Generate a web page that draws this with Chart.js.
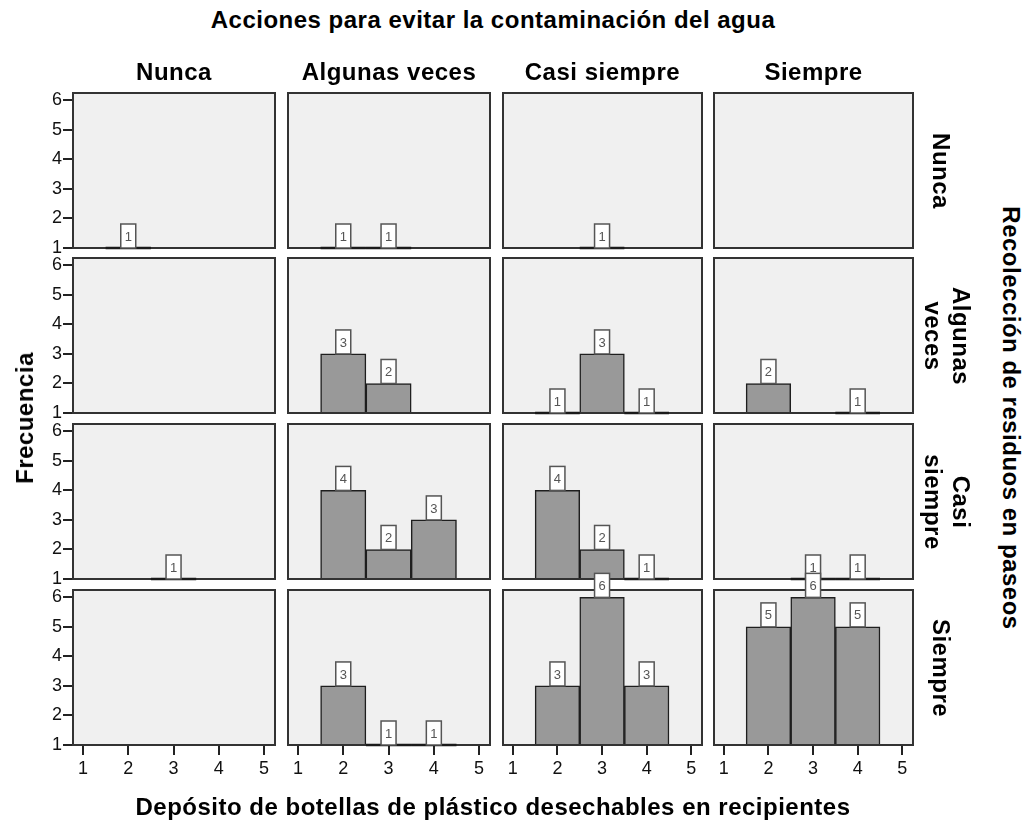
<!DOCTYPE html>
<html>
<head>
<meta charset="utf-8">
<title>Acciones para evitar la contaminación del agua</title>
<script src="https://cdn.jsdelivr.net/npm/chart.js@4.4.1/dist/chart.umd.min.js"></script>
<style>
  html, body { margin: 0; padding: 0; background: #fff; }
  #page { position: relative; width: 1033px; height: 821px; overflow: hidden; font-family: "Liberation Sans", Arial, sans-serif; }
  #page canvas { position: absolute; }
  .lbl { position: absolute; font-weight: bold; font-size: 24px; line-height: 24px; letter-spacing: 0.5px; color: #000; white-space: pre; text-align: center; transform: translate(-50%, -50%); }
  .two { line-height: 28px; }
  .cw { transform: translate(-50%, -50%) rotate(90deg); }
  .ccw { transform: translate(-50%, -50%) rotate(-90deg); }
</style>
</head>
<body>
<div id="page"></div>
<script>
const titleText = "Acciones para evitar la contaminación del agua";
const xTitle = "Depósito de botellas de plástico desechables en recipientes";
const yTitle = "Frecuencia";
const rowTitle = "Recolección de residuos en paseos";
const colLabels = ["Nunca", "Algunas veces", "Casi siempre", "Siempre"];
const rowLabels = ["Nunca", "Algunas\nveces", "Casi\nsiempre", "Siempre"];
const binValues = [1, 2, 3, 4, 5];
const yTicks = [1, 2, 3, 4, 5, 6];

// counts for bins 1..5, one array per column (Nunca, Algunas veces, Casi siempre, Siempre)
const countsNunca = [
  [null, 1, null, null, null],
  [null, 1, 1, null, null],
  [null, null, 1, null, null],
  [null, null, null, null, null]
];
const countsAlgunasVeces = [
  [null, null, null, null, null],
  [null, 3, 2, null, null],
  [null, 1, 3, 1, null],
  [null, 2, null, 1, null]
];
const countsCasiSiempre = [
  [null, null, 1, null, null],
  [null, 4, 2, 3, null],
  [null, 4, 2, 1, null],
  [null, null, 1, 1, null]
];
const countsSiempre = [
  [null, null, null, null, null],
  [null, 3, 1, 1, null],
  [null, 3, 6, 3, null],
  [null, 5, 6, 5, null]
];
const rowCounts = [countsNunca, countsAlgunasVeces, countsCasiSiempre, countsSiempre];

// panel geometry
const colLeft = [73, 288, 503, 714];
const colWidth = [202, 202, 199, 199];
const rowTop = [93, 258, 424, 590];
const panelHeight = 155;
const padL = 50, padR = 14, padT = 32, padB = 50;

Chart.defaults.font.family = '"Liberation Sans", Arial, sans-serif';

const page = document.getElementById("page");

function addLabel(text, cx, cy, cls) {
  const d = document.createElement("div");
  d.className = "lbl" + (cls ? " " + cls : "");
  d.textContent = text;
  d.style.left = cx + "px";
  d.style.top = cy + "px";
  page.appendChild(d);
}

const panelPlugin = {
  id: "panel",
  beforeDraw(chart) {
    const a = chart.chartArea, ctx = chart.ctx;
    ctx.save();
    ctx.fillStyle = "#f0f0f0";
    ctx.fillRect(a.left, a.top, a.right - a.left, a.bottom - a.top);
    ctx.restore();
  },
  afterDatasetsDraw(chart) {
    const a = chart.chartArea, ctx = chart.ctx;
    ctx.save();
    ctx.strokeStyle = "#333";
    ctx.lineWidth = 2;
    ctx.strokeRect(a.left, a.top, a.right - a.left, a.bottom - a.top);

    const meta = chart.getDatasetMeta(0);
    const data = chart.data.datasets[0].data;
    meta.data.forEach((bar, i) => {
      const v = data[i].y;
      if (v === 1) {
        // a count of 1 sits on the axis base: show it as a flat line
        ctx.strokeStyle = "#1a1a1a";
        ctx.lineWidth = 2.5;
        ctx.beginPath();
        ctx.moveTo(bar.x - bar.width / 2, bar.base);
        ctx.lineTo(bar.x + bar.width / 2, bar.base);
        ctx.stroke();
      }
      const bw = 15, bh = 24;
      ctx.fillStyle = "#fff";
      ctx.fillRect(bar.x - bw / 2, bar.y - bh, bw, bh);
      ctx.strokeStyle = "#555";
      ctx.lineWidth = 1.5;
      ctx.strokeRect(bar.x - bw / 2, bar.y - bh, bw, bh);
      ctx.fillStyle = "#555";
      ctx.font = '13px "Liberation Sans", Arial, sans-serif';
      ctx.textAlign = "center";
      ctx.textBaseline = "middle";
      ctx.fillText(String(v), bar.x, bar.y - bh / 2 + 1);
    });
    ctx.restore();
  }
};

function makePanel(r, c) {
  const counts = rowCounts[r][c];
  const points = [];
  counts.forEach((v, i) => {
    if (v !== null) points.push({ x: binValues[i], y: v });
  });

  const showY = c === 0;
  const showX = r === 3;

  const canvas = document.createElement("canvas");
  const w = colWidth[c] + padL + padR;
  const h = panelHeight + padT + padB;
  canvas.width = w;
  canvas.height = h;
  canvas.style.left = (colLeft[c] - padL) + "px";
  canvas.style.top = (rowTop[r] - padT) + "px";
  canvas.style.width = w + "px";
  canvas.style.height = h + "px";
  page.appendChild(canvas);

  new Chart(canvas, {
    type: "bar",
    data: {
      datasets: [{
        data: points,
        base: 1,
        backgroundColor: "#999999",
        borderColor: "#1e1e1e",
        borderWidth: 1.5,
        barPercentage: 1,
        categoryPercentage: 1
      }]
    },
    options: {
      responsive: false,
      animation: false,
      events: [],
      layout: { padding: { left: 0, right: padR, top: padT, bottom: 0 } },
      plugins: { legend: { display: false }, tooltip: { enabled: false } },
      scales: {
        x: {
          type: "linear",
          min: 0.78,
          max: 5.24,
          offset: false,
          afterBuildTicks: (s) => { s.ticks = binValues.map((v) => ({ value: v })); },
          afterFit: (s) => { s.height = padB; },
          border: { display: false },
          grid: { display: showX, offset: false, drawOnChartArea: false, drawTicks: true, tickLength: 10, color: "#222", lineWidth: 2 },
          ticks: { display: showX, padding: 3, color: "#111", font: { size: 18 }, maxRotation: 0 }
        },
        y: {
          type: "linear",
          min: 1,
          max: 6.25,
          afterBuildTicks: (s) => { s.ticks = yTicks.map((v) => ({ value: v })); },
          afterFit: (s) => { s.width = padL; },
          border: { display: false },
          grid: { display: showY, drawOnChartArea: false, drawTicks: true, tickLength: 10, color: "#222", lineWidth: 2 },
          ticks: { display: showY, padding: 1, color: "#111", font: { size: 18 } }
        }
      }
    },
    plugins: [panelPlugin]
  });
}

for (let r = 0; r < 4; r++) {
  for (let c = 0; c < 4; c++) {
    makePanel(r, c);
  }
}

// titles and strip labels
addLabel(titleText, 493, 20);
colLabels.forEach((t, c) => addLabel(t, colLeft[c] + colWidth[c] / 2, 72));
rowLabels.forEach((t, r) => {
  const two = t.indexOf("\n") >= 0;
  addLabel(t, two ? 947 : 941, rowTop[r] + panelHeight / 2, two ? "cw two" : "cw");
});
addLabel(rowTitle, 1011, 418, "cw");
addLabel(yTitle, 25, 418, "ccw");
addLabel(xTitle, 493, 807);
</script>
</body>
</html>
